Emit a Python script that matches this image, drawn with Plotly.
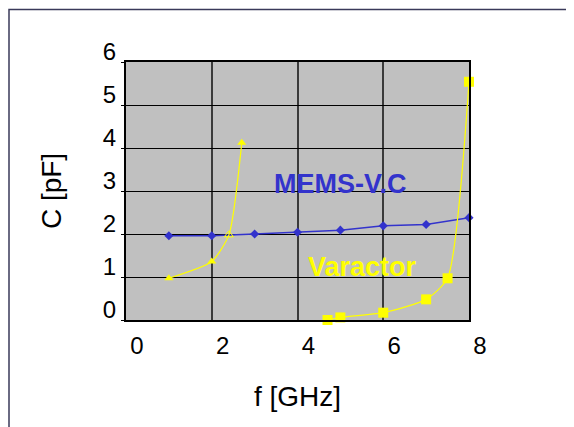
import plotly.graph_objects as go

# MEMS variable capacitor
mems_f = [1, 2, 3, 4, 5, 6, 7, 8]
mems_c = [1.96, 1.96, 2.0, 2.04, 2.09, 2.19, 2.22, 2.38]

# Varactor (low-frequency branch, triangles)
var1_f = [1.0, 2.0, 2.4, 2.7]
var1_c = [0.97, 1.36, 1.98, 4.12]

# Varactor (high-frequency branch, squares)
var2_f = [4.7, 5.0, 6.0, 7.0, 7.5, 8.0]
var2_c = [0.0, 0.06, 0.17, 0.48, 0.97, 5.54]

x_ticks = [0, 2, 4, 6, 8]
y_ticks = [0, 1, 2, 3, 4, 5, 6]

BLUE = "#3333cc"
YEL = "#ffff00"
TICKFONT = "Liberation Sans Narrow, Arial Narrow, Liberation Sans"
TITLEFONT = "Liberation Sans, Arial"

fig = go.Figure()
fig.add_trace(go.Scatter(x=mems_f, y=mems_c, mode="lines+markers",
                         line=dict(color=BLUE, width=1.5),
                         marker=dict(symbol="diamond", size=7, color=BLUE),
                         cliponaxis=False, showlegend=False))
fig.add_trace(go.Scatter(x=var1_f, y=var1_c, mode="lines+markers",
                         line=dict(color=YEL, width=1.2, shape="spline", smoothing=0.6),
                         marker=dict(symbol=["triangle-up", "triangle-up",
                                             "triangle-up-open", "triangle-up"],
                                     size=8, color=YEL),
                         cliponaxis=False, showlegend=False))
fig.add_trace(go.Scatter(x=var2_f, y=var2_c, mode="lines+markers",
                         line=dict(color=YEL, width=1.2, shape="spline", smoothing=0.6),
                         marker=dict(symbol="square", size=10, color=YEL),
                         cliponaxis=False, showlegend=False))

fig.add_annotation(x=5.0, y=3.17, text="<b>MEMS-V.C</b>", showarrow=False,
                   font=dict(family=TITLEFONT, size=27, color=BLUE))
fig.add_annotation(x=5.52, y=1.24, text="<b>Varactor</b>", showarrow=False,
                   font=dict(family=TITLEFONT, size=27, color=YEL))

# figure sits at (8, 8) in the page; work in figure pixels
W, H = 566, 419
L, R, T, B = 118, 461, 54, 312
pw, ph = R - L, B - T
fig.add_shape(type="rect", xref="paper", yref="paper",
              x0=(1 - L) / pw, x1=(W + 20 - L) / pw,
              y0=(B - H - 20) / ph, y1=(B - 1.5) / ph,
              line=dict(color="#3a3a5a", width=1.5), layer="below")

fig.update_layout(
    width=W, height=H,
    margin=dict(l=L, r=W - R, t=T, b=H - B, autoexpand=False),
    paper_bgcolor="white", plot_bgcolor="#c0c0c0",
    font=dict(family=TICKFONT, size=24, color="black"),
)
fig.update_xaxes(range=[0, 8], tickvals=x_ticks, ticktext=[str(v) for v in x_ticks],
                 showgrid=True, gridcolor="#3a3a3a", gridwidth=1.5,
                 showline=True, linecolor="black", linewidth=2, mirror=True,
                 ticks="", zeroline=False, ticklabelshift=11, ticklabelstandoff=3,
                 automargin=False,
                 title=dict(text="f [GHz]", standoff=29,
                            font=dict(family=TITLEFONT, size=28)))
fig.update_yaxes(range=[0, 6], tickvals=y_ticks, ticktext=[str(v) for v in y_ticks],
                 showgrid=True, gridcolor="black", gridwidth=1,
                 showline=True, linecolor="black", linewidth=2, mirror=True,
                 ticks="outside", ticklen=3, tickcolor="black", zeroline=False,
                 ticklabelshift=-10, automargin=False,
                 title=dict(text="C [pF]", standoff=33,
                            font=dict(family=TITLEFONT, size=28)))

fig.write_html("out.html")
